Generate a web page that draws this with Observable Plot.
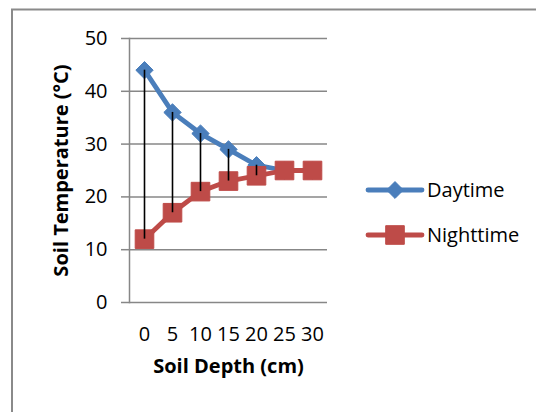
<!DOCTYPE html>
<html>
<head>
<meta charset="utf-8">
<script src="https://cdn.jsdelivr.net/npm/d3@7"></script>
<script src="https://cdn.jsdelivr.net/npm/@observablehq/plot@0.6"></script>
<style>
  html, body { margin: 0; padding: 0; background: #fff; }
  svg { display: block; }
</style>
</head>
<body>
<div id="chart"></div>
<script>
const depths = ["0", "5", "10", "15", "20", "25", "30"];
const daytime = [44, 36, 32, 29, 26, 25, 25];
const nighttime = [12, 17, 21, 23, 24, 25, 25];
const yTicks = [0, 10, 20, 30, 40, 50];
const seriesNames = ["Daytime", "Nighttime"];
const xTitle = "Soil Depth (cm)";
const yTitle = "Soil Temperature (°C)";

const blue = "#4A7EBB";
const red = "#BE4B48";
const gray = "#878787";

const rows = depths.map((d, i) => ({depth: d, day: daytime[i], night: nighttime[i]}));

const chart = Plot.plot({
  width: 536,
  height: 412,
  marginLeft: 129,
  marginRight: 209,
  marginTop: 38,
  marginBottom: 110,
  style: {fontFamily: "'Open Sans', sans-serif", fontSize: "20px", color: "#000", background: "#fff"},
  x: {type: "point", domain: depths, padding: 0.5},
  y: {domain: [0, 50]},
  marks: [
    Plot.gridY(yTicks, {stroke: gray, strokeOpacity: 1, strokeWidth: 1.5}),
    Plot.axisY(yTicks, {tickSize: 8, tickPadding: 14, stroke: gray, strokeOpacity: 1, strokeWidth: 1.5, label: null, fill: "#000", fontSize: 20}),
    Plot.frame({anchor: "left", stroke: gray, strokeWidth: 1.5}),
    Plot.axisX({tickSize: 0, tickPadding: 24, label: null, fill: "#000", fontSize: 20}),
    Plot.line(rows, {x: "depth", y: "day", stroke: blue, strokeWidth: 4.8, strokeLinecap: "round", strokeLinejoin: "round"}),
    Plot.dot(rows, {x: "depth", y: "day", symbol: "diamond2", r: 7.8, fill: blue, stroke: blue, strokeWidth: 1}),
    Plot.line(rows, {x: "depth", y: "night", stroke: red, strokeWidth: 4.8, strokeLinecap: "round", strokeLinejoin: "round"}),
    Plot.dot(rows, {x: "depth", y: "night", symbol: "square", r: 10.5, fill: red, stroke: red, strokeWidth: 1}),
    Plot.ruleX(rows, {x: "depth", y1: "day", y2: "night", stroke: "#000", strokeWidth: 1.6}),
    Plot.text([xTitle], {text: d => d, frameAnchor: "bottom", dy: 70, textAnchor: "middle", fontWeight: "bold", fontSize: 20, fill: "#000"}),
    Plot.text([yTitle], {text: d => d, frameAnchor: "left", dx: -68, textAnchor: "middle", rotate: -90, fontWeight: "bold", fontSize: 20, fill: "#000"})
  ]
});

document.getElementById("chart").appendChild(chart);

// outer chart border
const svg = d3.select(chart);
svg.append("rect")
  .attr("x", 12).attr("y", 9.5).attr("width", 600).attr("height", 500)
  .attr("fill", "none").attr("stroke", "#8a8a8a").attr("stroke-width", 2);

// legend
const legend = svg.append("g").attr("font-family", "'Open Sans', sans-serif").attr("font-size", 20).attr("text-anchor", "start");
const legendItems = [
  {name: seriesNames[0], color: blue, symbol: d3.symbolDiamond2, size: Math.PI * 7.6 * 7.6, y: 190},
  {name: seriesNames[1], color: red, symbol: d3.symbolSquare, size: Math.PI * 10.5 * 10.5, y: 235}
];
legendItems.forEach(it => {
  const g = legend.append("g").attr("transform", `translate(0,${it.y})`);
  g.append("line").attr("x1", 368).attr("x2", 422).attr("y1", 0).attr("y2", 0)
    .attr("stroke", it.color).attr("stroke-width", 4.8).attr("stroke-linecap", "round");
  g.append("path").attr("transform", "translate(395,0)")
    .attr("d", d3.symbol(it.symbol, it.size)()).attr("fill", it.color).attr("stroke", it.color);
  g.append("text").attr("x", 427).attr("y", 0).attr("dy", "0.35em").attr("text-anchor", "start").attr("fill", "#000").text(it.name);
});
</script>
</body>
</html>
